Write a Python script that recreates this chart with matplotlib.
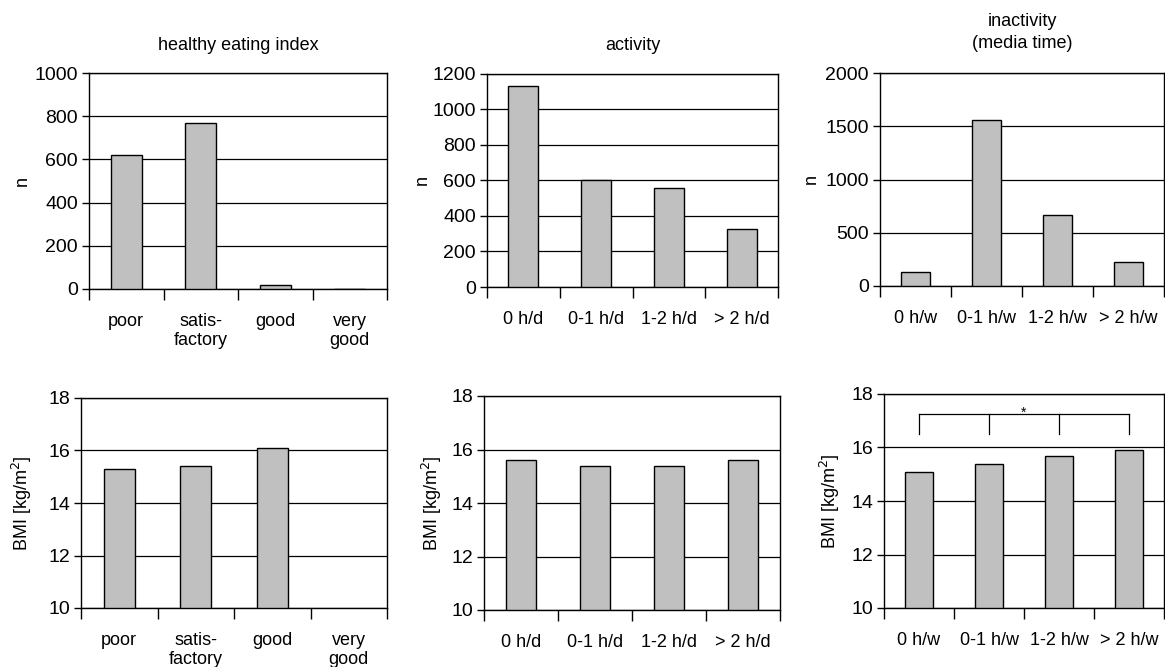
import matplotlib
matplotlib.use("Agg")
import matplotlib.pyplot as plt
import numpy as np

plt.rcParams['font.family'] = ['Liberation Sans', 'DejaVu Sans']

W, H = 1165, 667

# ---- data ----
eating_cats = ["poor", "satis-\nfactory", "good", "very\ngood"]
activity_cats = ["0 h/d", "0-1 h/d", "1-2 h/d", "> 2 h/d"]
media_cats = ["0 h/w", "0-1 h/w", "1-2 h/w", "> 2 h/w"]

eating_n = [620, 770, 20, 0]
activity_n = [1130, 600, 555, 328]
media_n = [135, 1555, 670, 225]

eating_bmi = [15.3, 15.4, 16.1, np.nan]
activity_bmi = [15.6, 15.4, 15.4, 15.6]
media_bmi = [15.1, 15.4, 15.7, 15.9]

titles = ["healthy eating index", "activity", "inactivity\n(media time)"]

n_ylims = [(0, 1000), (0, 1200), (0, 2000)]
n_yticks = [np.arange(0, 1001, 200), np.arange(0, 1201, 200), np.arange(0, 2001, 500)]
bmi_ylim = (10, 18)
bmi_yticks = np.arange(10, 19, 2)

# significance bracket (bottom-right)
bracket_y = 17.25
bracket_drop = 16.5
bracket_star_y = 17.3

# ---- layout (pixel boxes: left, right, top, bottom) ----
boxes_top = [(89, 387, 73, 289), (487, 778, 74, 287), (880, 1164, 73, 286)]
boxes_bot = [(81, 387, 398, 608), (484, 780, 396, 610), (884, 1164, 394, 608)]
ylabel_x_top = [22, 422, 811]
ylabel_x_bot = [22, 432, 830]

fig = plt.figure(figsize=(W / 100, H / 100), dpi=100)


def make_ax(box):
    l, r, t, b = box
    return fig.add_axes([l / W, 1 - b / H, (r - l) / W, (b - t) / H])


def style(ax, cats, ylim, yticks, box, ylabel, ylabel_x):
    l, r, t, b = box
    ax.set_xlim(-0.5, len(cats) - 0.5)
    ax.set_ylim(*ylim)
    ax.set_yticks(yticks)
    ax.set_xticks(np.arange(len(cats)))
    ax.set_xticklabels(cats, fontsize=13, linespacing=1.15, va='top')
    ax.set_xticks(np.arange(len(cats) + 1) - 0.5, minor=True)
    ax.tick_params(axis='x', which='major', length=0, pad=17)
    ax.tick_params(axis='x', which='minor', length=8, width=1, direction='out', color='black')
    ax.tick_params(axis='y', which='major', length=5, width=1, direction='out', labelsize=14, pad=3)
    for s in ax.spines.values():
        s.set_linewidth(1.0)
        s.set_color('black')
    ax.yaxis.grid(True, color='black', linewidth=0.9)
    ax.set_axisbelow(True)
    ax.set_ylabel(ylabel, fontsize=13, va='center', ha='center')
    ax.yaxis.set_label_coords((ylabel_x - l) / (r - l), 0.5)


top_data = [eating_n, activity_n, media_n]
bot_data = [eating_bmi, activity_bmi, media_bmi]
cats_all = [eating_cats, activity_cats, media_cats]

for i in range(3):
    ax = make_ax(boxes_top[i])
    x = np.arange(len(cats_all[i]))
    ax.bar(x, top_data[i], width=0.41, color='#c0c0c0', edgecolor='black', linewidth=1.0, zorder=3)
    style(ax, cats_all[i], n_ylims[i], n_yticks[i], boxes_top[i], "n", ylabel_x_top[i])

    ax2 = make_ax(boxes_bot[i])
    vals = np.array(bot_data[i], dtype=float)
    heights = vals - bmi_ylim[0]
    ax2.bar(x, heights, bottom=bmi_ylim[0], width=0.41, color='#c0c0c0', edgecolor='black',
            linewidth=1.0, zorder=3)
    style(ax2, cats_all[i], bmi_ylim, bmi_yticks, boxes_bot[i], "BMI [kg/m$^2$]", ylabel_x_bot[i])

    if i == 2:
        xs = np.arange(len(media_cats))
        ax2.plot([xs[0], xs[-1]], [bracket_y, bracket_y], color='black', lw=0.9, zorder=4)
        for xv in xs:
            ax2.plot([xv, xv], [bracket_drop, bracket_y], color='black', lw=0.9, zorder=4)
        ax2.text((xs[1] + xs[2]) / 2, bracket_star_y, "*", ha='center', va='center', fontsize=10)

# titles
title_y = [[45], [45], [21, 43]]
for i, box in enumerate(boxes_top):
    cx = (box[0] + box[1]) / 2
    lines = titles[i].split("\n")
    for line, yy in zip(lines, title_y[i]):
        fig.text(cx / W, 1 - yy / H, line, ha='center', va='center', fontsize=13)

fig.savefig("out.png", dpi=100)
